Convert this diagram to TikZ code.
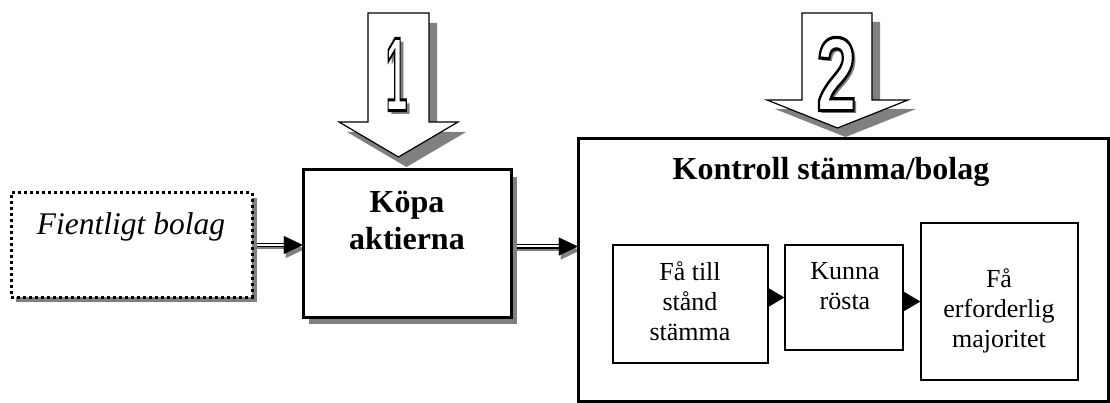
\documentclass[tikz,border=0pt]{standalone}
\usepackage{fontspec}
\setmainfont{Liberation Serif}
\newfontfamily\digitfont{Liberation Sans}
\usetikzlibrary{arrows.meta,shadows}
\definecolor{shadowgray}{HTML}{808080}
\newcommand{\outlinedigit}[3]{{\color{white}\special{pdf:literal direct 0 G 2 Tr 1.8 w}\scalebox{#1}[#2]{#3}\special{pdf:literal direct 0 Tr}}}
\begin{document}
\begin{tikzpicture}[x=1pt,y=-1pt,
  rbox/.style 2 args={draw=black, fill=white, inner sep=0pt, minimum width=#1, minimum height=#2},
  boxshadow/.style 2 args={drop shadow={shadow xshift=#1, shadow yshift=#2, opacity=1, fill=shadowgray}},
  txt/.style={inner sep=0pt, align=center, font=\fontsize{26}{30}\selectfont},
  bold/.style={inner sep=0pt, align=center, font=\bfseries\fontsize{32}{37}\selectfont},
  dbl/.style={draw=black, double=white, double distance=2pt, line width=1.2pt},
  dblshadow/.style={draw=shadowgray, line width=2.4pt},
  tipblk/.style={-{Triangle[length=19pt,width=18pt]}, line width=0.1pt, draw=black},
  tipgray/.style={-{Triangle[length=19pt,width=18pt]}, line width=0.1pt, draw=shadowgray},
  smalltip/.style={-{Triangle[length=17pt,width=20pt]}, line width=0.1pt, draw=black},
  bigarrow/.style={draw=black, line width=1.2pt, fill=white, line join=miter},
  digit/.style={inner sep=0pt, font=\digitfont\bfseries\fontsize{60}{60}\selectfont}
]
\useasboundingbox (0,0) rectangle (1110,403);

% ---- big numbered arrows (behind boxes)
\fill[shadowgray, shift={(8,10)}] (368,13) -- (429,13) -- (429,122) -- (458,122) -- (398.5,157) -- (339,122) -- (368,122) -- cycle;
\draw[bigarrow] (368,13) -- (429,13) -- (429,122) -- (458,122) -- (398.5,157) -- (339,122) -- (368,122) -- cycle;
\fill[shadowgray, shift={(8,9)}] (802,13) -- (872,13) -- (872,100) -- (908,100) -- (837.5,128) -- (767,100) -- (802,100) -- cycle;
\draw[bigarrow] (802,13) -- (872,13) -- (872,100) -- (908,100) -- (837.5,128) -- (767,100) -- (802,100) -- cycle;

% digits with shadow
\node[digit, text=shadowgray] (oneshadow) at (400,78) {\scalebox{0.65}[1.75]{1}};
\node[digit] (one) at (396.5,74.5) {\outlinedigit{0.65}{1.75}{1}};
\node[digit, text=shadowgray] (twoshadow) at (840,77) {\scalebox{1.2}[1.75]{2}};
\node[digit] (two) at (836.5,74) {\outlinedigit{1.2}{1.75}{2}};

% ---- boxes defined (placement only) for connectors
\path node[rbox={241pt}{104pt}, draw=none, fill=none] (fient) at (131.5,245) {}
      node[rbox={208pt}{147pt}, draw=none, fill=none] (kopa) at (407,243.5) {}
      node[rbox={530pt}{262pt}, draw=none, fill=none] (kontroll) at (843,270) {};

% ---- connectors
\draw[dblshadow] ([yshift=-3pt]fient.east) -- ([yshift=-3pt,xshift=-18pt]fient.east -| kopa.west);
\draw[dbl] (fient.east) -- ([xshift=-17pt]fient.east -| kopa.west);
\draw[tipgray] ([xshift=-17pt,yshift=-4pt]fient.east -| kopa.west) -- ([xshift=2pt,yshift=-4pt]fient.east -| kopa.west);
\draw[tipblk] ([xshift=-19pt]fient.east -| kopa.west) -- (fient.east -| kopa.west);

\draw[dblshadow] ([yshift=-6pt]kopa.east) -- ([yshift=-6pt,xshift=-18pt]kopa.east -| kontroll.west);
\draw[dbl] ([yshift=-3pt]kopa.east) -- ([yshift=-3pt,xshift=-17pt]kopa.east -| kontroll.west);
\draw[tipgray] ([xshift=-17pt,yshift=-7pt]kopa.east -| kontroll.west) -- ([xshift=2pt,yshift=-7pt]kopa.east -| kontroll.west);
\draw[tipblk] ([xshift=-19pt,yshift=-3pt]kopa.east -| kontroll.west) -- ([yshift=-3pt]kopa.east -| kontroll.west);

% ---- boxes
\node[rbox={241pt}{104pt}, line width=3pt, dash pattern=on 3pt off 3pt, boxshadow={5pt}{-5pt}] (fientbox) at (131.5,245) {};
\node[inner sep=0pt, anchor=base, font=\itshape\fontsize{31.5}{36}\selectfont] (fienttext) at (131,235) {Fientligt bolag};

\node[rbox={208pt}{147pt}, line width=3pt, boxshadow={6pt}{-7pt}] (kopabox) at (407,243.5) {};
\node[bold] (kopatext) at (407,220) {Köpa\\aktierna};

\node[rbox={530pt}{262pt}, line width=3pt] (kontrollbox) at (843,270) {};
\node[bold, anchor=base] (kontrolltext) at (831,180) {Kontroll stämma/bolag};

\node[rbox={155pt}{118pt}, line width=1.5pt] (b1) at (690.5,304) {};
\node[txt] (b1text) at (690,301) {Få till\\stånd\\stämma};
\node[rbox={118pt}{105pt}, line width=1.5pt] (b2) at (844,297.5) {};
\node[txt] (b2text) at (845,286.5) {Kunna\\rösta};
\node[rbox={157pt}{157pt}, line width=1.5pt] (b3) at (999.5,301.5) {};
\node[txt] (b3text) at (999,311) {Få\\erforderlig\\majoritet};

\draw[smalltip] (b2.west -| b1.east) -- (b2.west);
\draw[smalltip] (b3.west -| b2.east) -- (b3.west);
\end{tikzpicture}
\end{document}
